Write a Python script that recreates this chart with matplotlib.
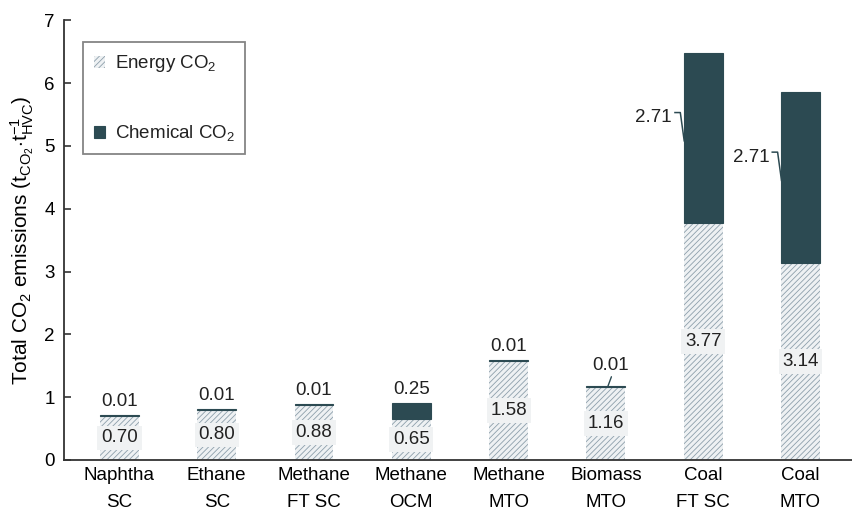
import matplotlib
matplotlib.use("Agg")
import matplotlib.pyplot as plt
import numpy as np

# emissions per tonne of high value chemicals
feedstocks = ["Naphtha", "Ethane", "Methane", "Methane", "Methane", "Biomass", "Coal", "Coal"]
routes = ["SC", "SC", "FT SC", "OCM", "MTO", "MTO", "FT SC", "MTO"]
energy_co2 = [0.70, 0.80, 0.88, 0.65, 1.58, 1.16, 3.77, 3.14]
chemical_co2 = [0.01, 0.01, 0.01, 0.25, 0.01, 0.01, 2.71, 2.71]

DARK = "#2c4a52"
HATCH = "#8d9fab"
LIGHT = "#eef1f3"
AXIS = "#333333"

plt.rcParams["font.family"] = ["Liberation Sans", "DejaVu Sans"]
plt.rcParams["mathtext.fontset"] = "custom"
plt.rcParams["mathtext.rm"] = "Liberation Sans"
plt.rcParams["mathtext.it"] = "Liberation Sans:italic"
plt.rcParams["hatch.linewidth"] = 0.6
plt.rcParams["font.size"] = 13.5
plt.rcParams["text.color"] = "#222222"

fig = plt.figure(figsize=(8.53, 5.18), dpi=100)
ax = fig.add_axes([0.075, 0.112, 0.925, 0.849])

x = np.arange(len(energy_co2))
w = 0.4
ax.bar(x, energy_co2, w, color=LIGHT, edgecolor=HATCH, linewidth=0,
       hatch="//////", label="Energy CO$_2$")
ax.bar(x, chemical_co2, w, bottom=energy_co2, color=DARK, edgecolor=DARK,
       linewidth=0.8, label="Chemical CO$_2$")

# energy labels sit in the middle of the hatched part
for xi, e in zip(x, energy_co2):
    ax.text(xi, e / 2, f"{e:.2f}", ha="center", va="center",
            bbox=dict(boxstyle="square,pad=0.2", fc="#f0f2f3", ec="none"))

# chemical labels
for i, (xi, e, c) in enumerate(zip(x, energy_co2, chemical_co2)):
    top = e + c
    if c > 1:
        ty = top - 1.03
        ax.text(xi - w / 2 - 0.12, ty, f"{c:.2f}", ha="right", va="center")
        ax.plot([xi - w / 2 - 0.09, xi - w / 2 - 0.035, xi - w / 2 + 0.005],
                [ty + 0.08, ty + 0.08, top - 1.40], color=DARK, lw=1.1)
    elif feedstocks[i] == "Biomass":
        ax.annotate(f"{c:.2f}", xy=(xi + 0.02, top), xytext=(2, 9),
                    textcoords="offset points", ha="center", va="bottom",
                    arrowprops=dict(arrowstyle="-", color=DARK, lw=1.0,
                                    shrinkA=0, shrinkB=0,
                                    relpos=(0.55, 0.0)))
    else:
        ax.annotate(f"{c:.2f}", xy=(xi, top), xytext=(0, 4),
                    textcoords="offset points", ha="center", va="bottom")

ax.set_xlim(-0.57, 7.54)
ax.set_ylim(0, 7)
ax.set_xticks(x)
ax.set_xticklabels([f"{f}\n{r}" for f, r in zip(feedstocks, routes)],
                   linespacing=1.8)
ax.tick_params(axis="x", length=0, pad=5)
ax.tick_params(axis="y", direction="in", length=5, width=1.2, color=AXIS, pad=6.5)

for s in ["top", "right"]:
    ax.spines[s].set_visible(False)
for s in ["left", "bottom"]:
    ax.spines[s].set_color(AXIS)
    ax.spines[s].set_linewidth(1.3)

ax.set_ylabel(r"Total CO$_2$ emissions (t$_{\mathrm{CO_2}}$$\cdot$t$_{\mathrm{HVC}}^{-1}$)",
              fontsize=15, labelpad=6)

leg = ax.legend(loc="upper left", bbox_to_anchor=(0.024, 0.69, 0.205, 0.26),
                mode="expand", borderaxespad=0, fancybox=False,
                edgecolor="#666666", handlelength=0.6, handleheight=0.6,
                labelspacing=2.6, borderpad=0.6, handletextpad=0.5)
leg.get_frame().set_linewidth(1.3)

fig.savefig("out.png", dpi=100)
